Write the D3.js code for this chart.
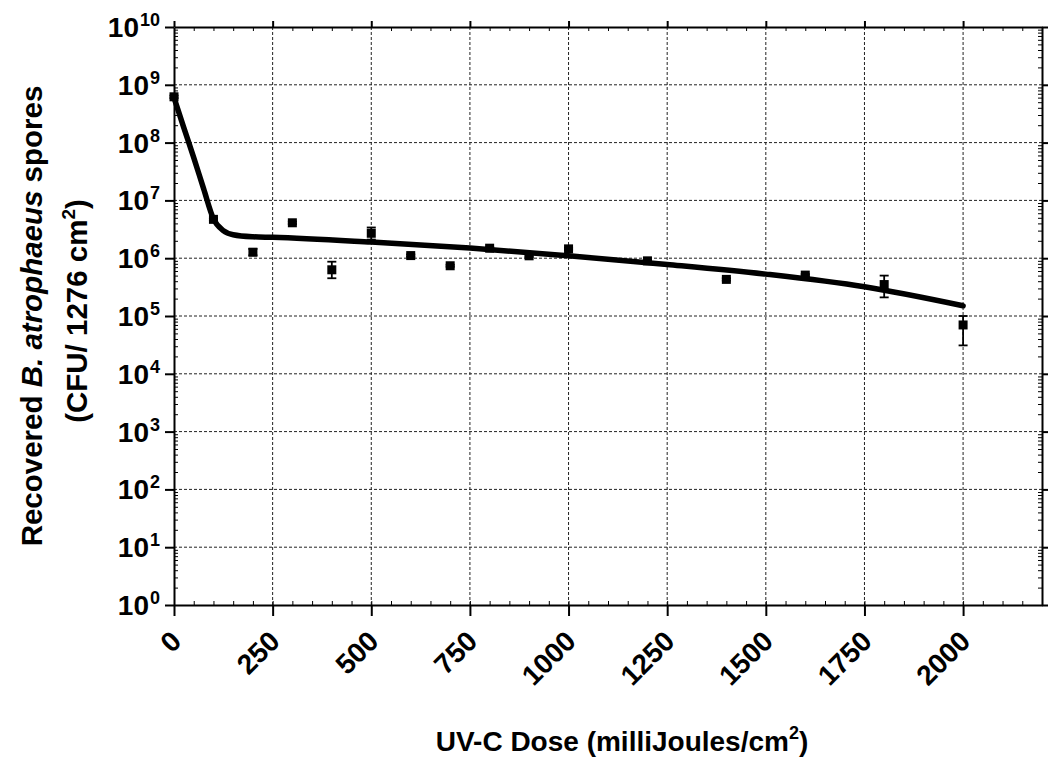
<!DOCTYPE html>
<html>
<head>
<meta charset="utf-8">
<script src="https://cdn.jsdelivr.net/npm/d3@7"></script>
<style>
  html, body { margin: 0; padding: 0; background: #fff; }
  svg { display: block; }
  text { font-family: "Liberation Sans", Arial, Helvetica, sans-serif; font-weight: bold; fill: #000; }
</style>
</head>
<body>
<svg id="chart" width="1049" height="757"></svg>
<script>
// ---- data ----
const doses   = [0, 100, 200, 300, 400, 500, 600, 700, 800, 900, 1000, 1200, 1400, 1600, 1800, 2000];
const cfu     = [6.2e8, 4.7e6, 1.27e6, 4.1e6, 6.3e5, 2.7e6, 1.11e6, 7.4e5, 1.49e6, 1.1e6, 1.45e6, 9.0e5, 4.3e5, 5.1e5, 3.5e5, 7.0e4];
const errLow  = [5.9e8, 4.5e6, 1.12e6, 3.9e6, 4.5e5, 2.1e6, 1.06e6, 7.1e5, 1.43e6, 1.05e6, 1.39e6, 8.6e5, 4.1e5, 4.9e5, 2.1e5, 3.1e4];
const errHigh = [6.5e8, 4.9e6, 1.45e6, 4.3e6, 8.7e5, 3.4e6, 1.16e6, 7.7e5, 1.55e6, 1.15e6, 1.51e6, 9.4e5, 4.5e5, 5.3e5, 5.0e5, 1.0e5];

const fitDose = [0, 25, 50, 75, 100, 125, 150, 200, 250, 500, 750, 1000, 1250, 1500, 1750, 2000];
const fitCfu  = [6.0e8, 1.8e8, 5.5e7, 1.6e7, 4.8e6, 3.0e6, 2.55e6, 2.35e6, 2.3e6, 1.9e6, 1.5e6, 1.1e6, 7.8e5, 5.3e5, 3.2e5, 1.5e5];

const xTicks = [0, 250, 500, 750, 1000, 1250, 1500, 1750, 2000];
const yExponents = [0, 1, 2, 3, 4, 5, 6, 7, 8, 9, 10];

const xTitle = "UV-C Dose (milliJoules/cm";
const yTitle1a = "Recovered ", yTitle1b = "B. atrophaeus", yTitle1c = " spores";
const yTitle2 = "(CFU/ 1276 cm";

// ---- layout ----
const L = 174, R = 1042, T = 27, B = 605;
const svg = d3.select("#chart");
const x = d3.scaleLinear().domain([0, 2200]).range([L, R]);
const y = d3.scaleLog().domain([1, 1e10]).range([B, T]);

// gridlines
const grid = svg.append("g").attr("stroke", "#222").attr("stroke-width", 1).attr("stroke-dasharray", "3,2");
grid.selectAll("line.gx").data(xTicks.filter(d => d > 0)).enter().append("line")
  .attr("x1", d => x(d)).attr("x2", d => x(d)).attr("y1", T).attr("y2", B);
grid.selectAll("line.gy").data(yExponents.filter(e => e > 0 && e < 10)).enter().append("line")
  .attr("x1", L).attr("x2", R).attr("y1", e => y(Math.pow(10, e))).attr("y2", e => y(Math.pow(10, e)));

// axes with d3 axis generators
const yMajor = yExponents.map(e => Math.pow(10, e));
const yMinor = [];
for (let e = 0; e < 10; e++) for (let k = 2; k <= 9; k++) yMinor.push(k * Math.pow(10, e));
const xMinor = d3.range(0, 2201, 50).filter(d => d % 250 !== 0);

// left axis
svg.append("g").attr("transform", `translate(${L},0)`)
  .call(d3.axisLeft(y).tickValues(yMajor).tickFormat("").tickSizeInner(9).tickSizeOuter(0))
  .call(g => g.selectAll("path,line").attr("stroke", "#000").attr("stroke-width", 2));
svg.append("g").attr("transform", `translate(${L},0)`)
  .call(d3.axisRight(y).tickValues(yMinor).tickFormat("").tickSizeInner(4).tickSizeOuter(0))
  .call(g => g.select("path").remove())
  .call(g => g.selectAll("line").attr("stroke", "#000").attr("stroke-width", 1));
// right axis
svg.append("g").attr("transform", `translate(${R},0)`)
  .call(d3.axisRight(y).tickValues(yMajor).tickFormat("").tickSizeInner(6).tickSizeOuter(0))
  .call(g => g.selectAll("path,line").attr("stroke", "#000").attr("stroke-width", 2));
svg.append("g").attr("transform", `translate(${R},0)`)
  .call(d3.axisLeft(y).tickValues(yMinor).tickFormat("").tickSizeInner(4).tickSizeOuter(0))
  .call(g => g.select("path").remove())
  .call(g => g.selectAll("line").attr("stroke", "#000").attr("stroke-width", 1));
// bottom axis
svg.append("g").attr("transform", `translate(0,${B})`)
  .call(d3.axisBottom(x).tickValues(xTicks).tickFormat("").tickSizeInner(11).tickSizeOuter(0))
  .call(g => g.selectAll("path,line").attr("stroke", "#000").attr("stroke-width", 2));
svg.append("g").attr("transform", `translate(0,${B})`)
  .call(d3.axisTop(x).tickValues(xTicks.concat(xMinor)).tickFormat("").tickSizeInner(4).tickSizeOuter(0))
  .call(g => g.select("path").remove())
  .call(g => g.selectAll("line").attr("stroke", "#000").attr("stroke-width", 1));
// top axis
svg.append("g").attr("transform", `translate(0,${T})`)
  .call(d3.axisTop(x).tickValues(xTicks).tickFormat("").tickSizeInner(6).tickSizeOuter(0))
  .call(g => g.selectAll("path,line").attr("stroke", "#000").attr("stroke-width", 2));
svg.append("g").attr("transform", `translate(0,${T})`)
  .call(d3.axisBottom(x).tickValues(xMinor).tickFormat("").tickSizeInner(4).tickSizeOuter(0))
  .call(g => g.select("path").remove())
  .call(g => g.selectAll("line").attr("stroke", "#000").attr("stroke-width", 1));

// y tick labels 10^n
const yl = svg.append("g").selectAll("text").data(yExponents).enter().append("text")
  .attr("x", 160).attr("y", e => y(Math.pow(10, e)) + 10)
  .attr("text-anchor", "end").style("font-size", "28px");
yl.append("tspan").text("10");
yl.append("tspan").attr("dy", -11).attr("dx", 1).style("font-size", "18px").text(e => String(e));

// x tick labels rotated
svg.append("g").selectAll("text").data(xTicks).enter().append("text")
  .attr("transform", d => `translate(${x(d) + 9},${B + 38}) rotate(-45)`)
  .attr("text-anchor", "end").style("font-size", "28px").text(d => String(d));

// fitted curve
const line = d3.line().x(d => x(d[0])).y(d => y(d[1])).curve(d3.curveMonotoneX);
svg.append("path").datum(fitDose.map((d, i) => [d, fitCfu[i]]))
  .attr("d", line).attr("fill", "none").attr("stroke", "#000").attr("stroke-width", 5.5)
  .attr("stroke-linecap", "round").attr("stroke-linejoin", "round");

// error bars
const pts = doses.map((d, i) => ({ d, v: cfu[i], lo: errLow[i], hi: errHigh[i] }));
const eb = svg.append("g").attr("stroke", "#000").attr("stroke-width", 1.8);
eb.selectAll("line.v").data(pts).enter().append("line")
  .attr("x1", p => x(p.d)).attr("x2", p => x(p.d)).attr("y1", p => y(p.lo)).attr("y2", p => y(p.hi));
eb.selectAll("line.lo").data(pts).enter().append("line")
  .attr("x1", p => x(p.d) - 4.5).attr("x2", p => x(p.d) + 4.5).attr("y1", p => y(p.lo)).attr("y2", p => y(p.lo));
eb.selectAll("line.hi").data(pts).enter().append("line")
  .attr("x1", p => x(p.d) - 4.5).attr("x2", p => x(p.d) + 4.5).attr("y1", p => y(p.hi)).attr("y2", p => y(p.hi));

// markers
svg.append("g").selectAll("rect").data(pts).enter().append("rect")
  .attr("x", p => x(p.d) - 4.5).attr("y", p => y(p.v) - 4.5).attr("width", 9).attr("height", 9).attr("fill", "#000");

// x title
const xt = svg.append("text").attr("x", 622).attr("y", 751).attr("text-anchor", "middle").style("font-size", "28px");
xt.append("tspan").text(xTitle);
xt.append("tspan").attr("dy", -12).style("font-size", "18px").text("2");
xt.append("tspan").attr("dy", 12).text(")");

// y title
const yt1 = svg.append("text").attr("transform", "translate(42,316) rotate(-90)").attr("text-anchor", "middle").style("font-size", "29.5px");
yt1.append("tspan").text(yTitle1a);
yt1.append("tspan").style("font-style", "italic").text(yTitle1b);
yt1.append("tspan").text(yTitle1c);
const yt2 = svg.append("text").attr("transform", "translate(87,311) rotate(-90)").attr("text-anchor", "middle").style("font-size", "29.5px");
yt2.append("tspan").text(yTitle2);
yt2.append("tspan").attr("dy", -12).style("font-size", "19px").text("2");
yt2.append("tspan").attr("dy", 12).text(")");
</script>
</body>
</html>
